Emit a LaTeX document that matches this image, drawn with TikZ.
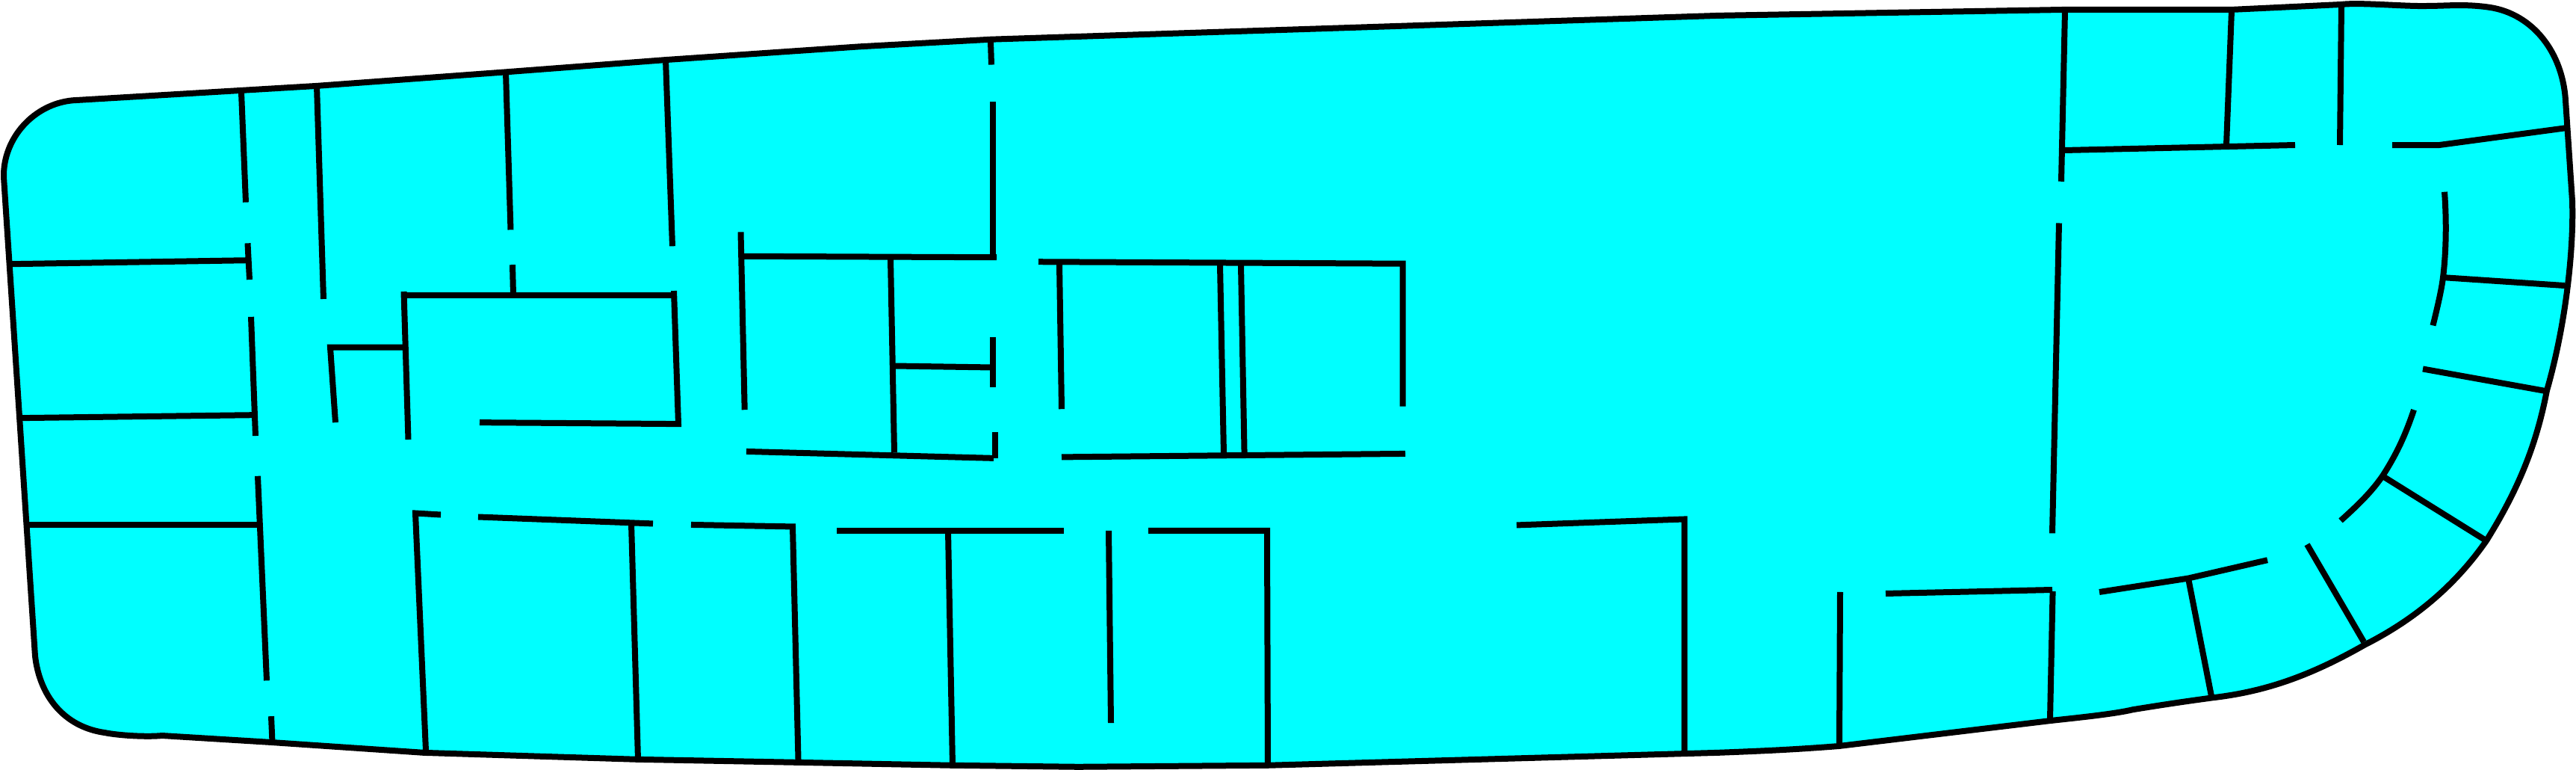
\documentclass[tikz,border=0pt]{standalone}
\usepackage{tikz}
\definecolor{floorcyan}{RGB}{0,255,255}

\begin{document}
\begin{tikzpicture}[xscale=0.1,yscale=0.0995]
\tikzset{wall/.style={black,line width=0.08cm}}
\useasboundingbox (0,0) rectangle (344.8,-103.52);
% outline
\filldraw [wall,fill=floorcyan] (0.5,-23.8) .. controls (0.4,-18.6) and (4.5,-14) .. (9.7,-13.5)
 -- (42.4,-11.55) -- (67.5,-9.7) -- (89.1,-8.05) -- (115,-6.27) -- (132.6,-5.3) -- (230,-2.1) -- (276.4,-1.3) -- (298.7,-1.3) -- (313.4,-0.6)
 .. controls (316,-0.3) and (322,-0.9) .. (325,-0.8) .. controls (327.5,-0.8) and (330,-0.5) .. (333.3,-1) .. controls (339,-1.9) and (343,-7) .. (343.4,-13.5)
 -- (344.3,-27) .. controls (344.5,-33) and (343.6,-43) .. (340.9,-52.5) .. controls (339.6,-59.3) and (337.4,-65.3) .. (332.8,-72.7) .. controls (328.5,-78.9) and (323,-83.4) .. (316.5,-86.7) .. controls (309,-91) and (303,-93) .. (296.2,-93.8)
 .. controls (291,-94.5) and (288,-95) .. (285.5,-95.4) .. controls (283,-96) and (278,-96.5) .. (274.4,-96.9) -- (246.2,-100.3) .. controls (240,-100.8) and (235,-101) .. (229.8,-101.2)
 -- (169.6,-102.9) -- (144.3,-103.1) -- (127.5,-102.9) -- (106.7,-102.5) -- (85.4,-102.1) -- (56.8,-101.2) -- (36.3,-99.8) -- (21.7,-98.9)
 .. controls (19.7,-99.1) and (16,-98.9) .. (14,-98.5) .. controls (8.5,-97.7) and (5.3,-93.5) .. (4.7,-88.2) -- cycle;
% top left rooms
\draw [wall] (32.3,-12.4) -- (32.9,-27.2);
\draw [wall] (42.4,-11.55) -- (43.3,-40.2);
\draw [wall] (67.7,-9.7) -- (68.35,-30.9);
\draw [wall] (89.1,-8.05) -- (90,-33.1);
\draw [wall] (1.5,-35.5) -- (33,-35);
\draw [wall] (33.15,-32.7) -- (33.4,-37.6);
\draw [wall] (33.6,-42.6) -- (34.2,-58.6);
\draw [wall] (2.7,-56.2) -- (33.9,-55.8);
\draw [wall] (34.5,-64) -- (35.7,-91.5);
\draw [wall] (3.7,-70.6) -- (34.6,-70.6);
\draw [wall] (36.3,-96.3) -- (36.45,-99.8);
% middle block
\draw [wall] (68.6,-35.6) -- (68.7,-39.6);
\draw [wall] (54.65,-59.1) -- (54.05,-39.2);
\draw [wall] (54.05,-39.7) -- (90.2,-39.7);
\draw [wall] (90.2,-39.1) -- (90.8,-57) -- (64.2,-56.8);
\draw [wall] (44.9,-56.8) -- (44.2,-46.7) -- (54.05,-46.7);
\draw [wall] (99.15,-31.2) -- (99.67,-55.1);
\draw [wall] (99.4,-34.45) -- (133.4,-34.6);
\draw [wall] (132.9,-34.6) -- (132.9,-13.7);
\draw [wall] (132.6,-5.6) -- (132.7,-8.7);
\draw [wall] (99.9,-60.7) -- (133,-61.6);
\draw [wall] (133.2,-61.6) -- (133.2,-58.1);
\draw [wall] (119.2,-34.8) -- (119.7,-60.85);
\draw [wall] (119.8,-49.2) -- (132.9,-49.4);
\draw [wall] (132.9,-45.3) -- (132.9,-52.1);
\draw [wall] (139,-35.2) -- (187.75,-35.45) -- (187.75,-54.65);
\draw [wall] (141.8,-35.45) -- (142.1,-55);
\draw [wall] (163.3,-35.6) -- (163.8,-61.05);
\draw [wall] (166.1,-35.6) -- (166.56,-61.05);
\draw [wall] (142.1,-61.45) -- (188.1,-61);
% lower rooms
\draw [wall] (59,-69.2) -- (55.6,-69) -- (57,-100.9);
\draw [wall] (64,-69.5) -- (87.4,-70.4);
\draw [wall] (84.5,-70.4) -- (85.4,-102.1);
\draw [wall] (92.5,-70.55) -- (106.1,-70.8) -- (106.86,-102.5);
\draw [wall] (112,-71.35) -- (142.4,-71.35);
\draw [wall] (126.9,-71.35) -- (127.5,-102.9);
\draw [wall] (148.4,-71.35) -- (148.7,-97.2);
\draw [wall] (153.7,-71.35) -- (169.6,-71.35) -- (169.7,-102.9);
\draw [wall] (203,-70.6) -- (225.45,-69.8) -- (225.45,-101.3);
% right rooms
\draw [wall] (276.4,-1.45) -- (275.9,-24.4);
\draw [wall] (276.4,-20.2) -- (307.2,-19.5);
\draw [wall] (298.7,-1.45) -- (298,-19.5);
\draw [wall] (313.4,-0.66) -- (313.2,-19.5);
\draw [wall] (320.2,-19.5) -- (326.5,-19.5) -- (343.5,-17.2);
\draw [wall] (275.6,-30) -- (274.7,-71.7);
\draw [wall] (327.2,-25.8) .. controls (327.5,-30) and (327.4,-34) .. (327,-37.3) .. controls (326.8,-39) and (326.2,-41.5) .. (325.65,-43.76);
\draw [wall] (327,-37.3) -- (343.3,-38.4);
\draw [wall] (324.3,-49.6) -- (340.9,-52.6);
\draw [wall] (323.1,-55.1) .. controls (321.8,-59) and (320.5,-61.5) .. (318.9,-64) .. controls (317.3,-66.3) and (315.5,-68) .. (313.3,-70);
\draw [wall] (318.9,-64) -- (332.8,-72.7);
\draw [wall] (308.8,-73.2) -- (316.4,-86.3);
\draw [wall] (281,-79.6) -- (292.9,-77.75) -- (303.5,-75.3);
\draw [wall] (292.9,-77.75) -- (296,-93.6);
\draw [wall] (246.3,-79.6) -- (246.2,-100.3);
\draw [wall] (252.4,-79.8) -- (274.7,-79.3);
\draw [wall] (274.76,-79.5) -- (274.4,-96.7);
\end{tikzpicture}
\end{document}
